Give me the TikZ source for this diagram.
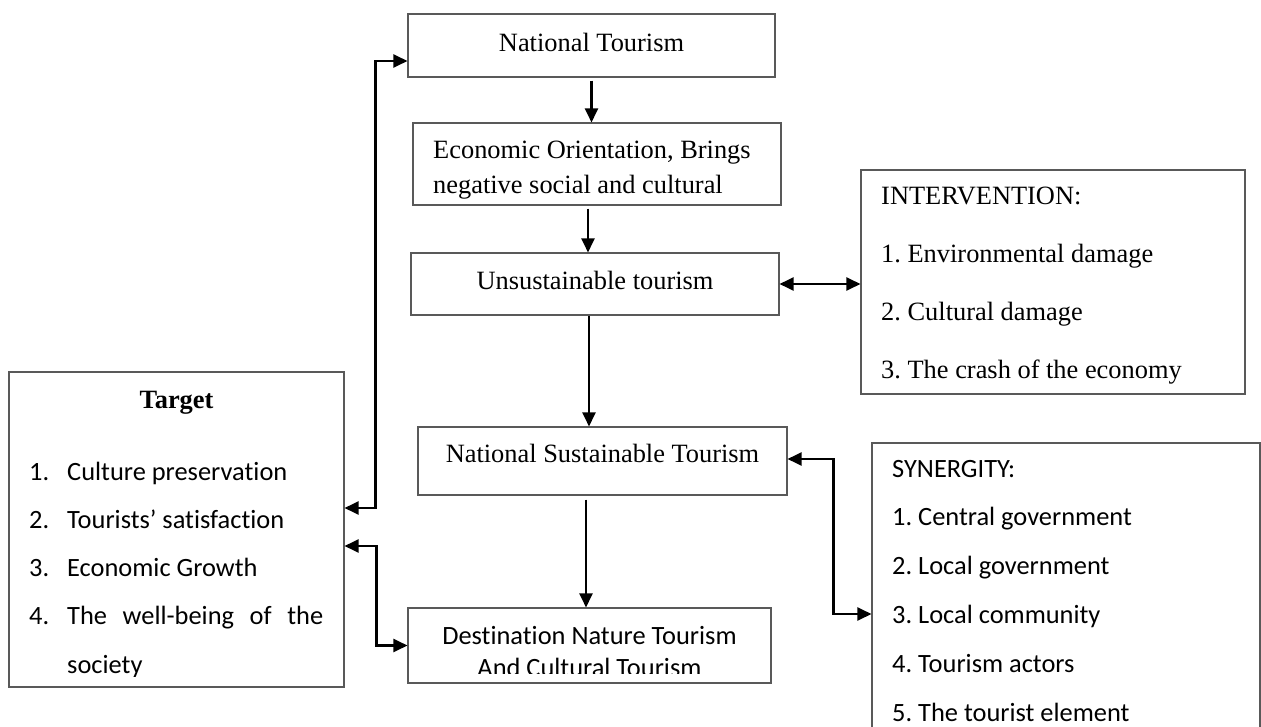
\documentclass[tikz,border=0pt]{standalone}
\usepackage{fontspec}
\setmainfont{Liberation Serif}
\newfontfamily\calibrifont[Ligatures=NoCommon]{Carlito}
\usetikzlibrary{arrows.meta}
\frenchspacing

\tikzstyle{box}=[rectangle, draw=black!65, line width=1.1pt, inner sep=0pt]
\tikzstyle{serif}=[font=\fontsize{26.4pt}{30pt}\selectfont, inner sep=0pt]
\tikzstyle{sans}=[font=\calibrifont\fontsize{26.4pt}{30pt}\selectfont, inner sep=0pt]
\tikzstyle{flowarrow}=[-{Triangle[length=14pt,width=13pt]}, line width=2.3pt]
\tikzstyle{twoway}=[{Triangle[length=14pt,width=13pt]}-{Triangle[length=14pt,width=13pt]}, line width=2.3pt]

\begin{document}
\begin{tikzpicture}[x=1pt, y=-1pt]
		\useasboundingbox (0,0) rectangle (1261,727);
		\clip (0,0) rectangle (1261,727);

		% middle column
		\node (ntour) at (591.5, 45.5) [box, serif, minimum width=367pt, minimum height=63pt, text depth=7pt] {National Tourism};
		\node (econ) at (597, 164) [box, minimum width=368pt, minimum height=82pt] {};
		\node (econa) at (433, 159) [serif, anchor=base west] {Economic Orientation, Brings};
		\node (econb) at (433, 194) [serif, anchor=base west] {negative social and cultural};
		\node (unsus) at (595, 284) [box, serif, minimum width=368pt, minimum height=62pt, text depth=8pt] {Unsustainable tourism};
		\node (nsust) at (602.5, 461) [box, serif, minimum width=369pt, minimum height=68pt, text depth=16pt] {National Sustainable Tourism};
		\node (dest) at (589.5, 645.5) [box, minimum width=363pt, minimum height=75pt] {};
		\begin{scope}
			\clip (408, 608) rectangle (771, 673);
			\node (desta) at (589.5, 644) [sans, anchor=base] {Destination Nature Tourism};
			\node (destb) at (589.5, 676) [sans, anchor=base] {And Cultural Tourism};
		\end{scope}

		% right side
		\node (interv) at (1053, 282) [box, minimum width=384pt, minimum height=224pt] {};
		\node (intva) at (881, 205) [serif, anchor=base west] {INTERVENTION:};
		\node (intvb) at (881, 263) [serif, anchor=base west] {1. Environmental damage};
		\node (intvc) at (881, 320) [serif, anchor=base west] {2. Cultural damage};
		\node (intvd) at (881, 378) [serif, anchor=base west] {3. The crash of the economy};

		\node (synerg) at (1066, 591.5) [box, minimum width=388pt, minimum height=297pt] {};
		\node (syna) at (892, 477) [sans, anchor=base west] {SYNERGITY:};
		\node (synb) at (892, 525.8) [sans, anchor=base west] {1. Central government};
		\node (sync) at (892, 574.6) [sans, anchor=base west] {2. Local government};
		\node (synd) at (892, 623.4) [sans, anchor=base west] {3. Local community};
		\node (syne) at (892, 672.2) [sans, anchor=base west] {4. Tourism actors};
		\node (synf) at (892, 721) [sans, anchor=base west] {5. The tourist element};

		% left side
		\node (target) at (176.5, 529.5) [box, minimum width=335pt, minimum height=315pt] {};
		\node (targh) at (176.5, 408) [serif, anchor=base] {\bfseries Target};
		\begin{scope}
			\clip (9, 372) rectangle (344, 676);
			\node (tnuma) at (29, 480) [sans, anchor=base west] {1.};
			\node (titema) at (67, 480) [sans, anchor=base west] {Culture preservation};
			\node (tnumb) at (29, 528.3) [sans, anchor=base west] {2.};
			\node (titemb) at (67, 528.3) [sans, anchor=base west] {Tourists’ satisfaction};
			\node (tnumc) at (29, 576.6) [sans, anchor=base west] {3.};
			\node (titemc) at (67, 576.6) [sans, anchor=base west] {Economic Growth};
			\node (tnumd) at (29, 624.9) [sans, anchor=base west] {4.};
			\node (titemd) at (67, 624.9) [sans, anchor=base west] {\makebox[256pt][s]{The well-being of the}};
			\node (titeme) at (67, 673.2) [sans, anchor=base west] {society};
		\end{scope}

		% connectors
		\draw[flowarrow] ([yshift=-3pt]ntour.south) -- (econ.north -| ntour.south);
		\draw[flowarrow] ([xshift=-9pt, yshift=-3pt]econ.south) -- ([xshift=-7pt]unsus.north);
		\draw[flowarrow] ([xshift=-6pt]unsus.south) -- ([xshift=-13.5pt]nsust.north);
		\draw[flowarrow] ([xshift=-16.5pt, yshift=-4pt]nsust.south) -- ([xshift=-3.5pt]dest.north);
		\draw[twoway] (unsus.east) -- (unsus.east -| interv.west);
		\draw[twoway] ([yshift=21.5pt]target.east) -- ++(31, 0) |- ([yshift=-15.5pt]ntour.west);
		\draw[twoway] ([yshift=-16.5pt]target.east) -- ++(32, 0) |- (dest.west);
		\draw[twoway] ([yshift=2pt]nsust.east) -- ++(46, 0) |- ([yshift=-22.5pt]synerg.west);
\end{tikzpicture}
\end{document}
